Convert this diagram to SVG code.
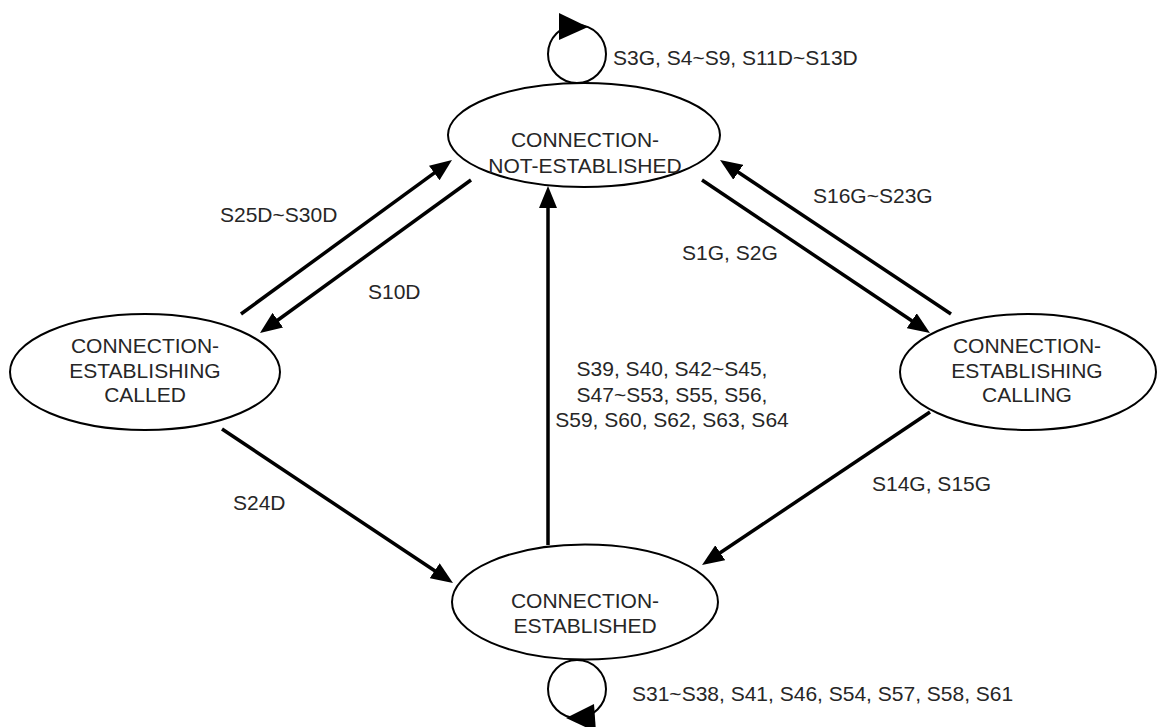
<svg xmlns="http://www.w3.org/2000/svg" width="1157" height="727" viewBox="0 0 1157 727">
  <style>
    .state { fill: #ffffff; stroke: #000000; stroke-width: 2; }
    .name { font-family: "Liberation Sans", Arial, sans-serif; font-size: 21px; fill: #262626; text-anchor: middle; }
    .label { font-family: "Liberation Sans", Arial, sans-serif; font-size: 21px; fill: #262626; }
    .edge { fill: none; stroke: #000000; stroke-width: 3.5; }
    .loop { fill: none; stroke: #000000; stroke-width: 2; }
    .head { fill: #000000; stroke: none; }
  </style>
  <defs>
    <marker id="arrow" markerUnits="userSpaceOnUse" markerWidth="22" markerHeight="18" refX="10" refY="9" orient="auto">
      <path d="M0,0 L22,9 L0,18 z" fill="#000000"/>
    </marker>
  </defs>

  <rect width="1157" height="727" fill="#ffffff"/>

  <!-- transitions -->
  <g id="connectors">
    <!-- self loop on CONNECTION-NOT-ESTABLISHED -->
    <circle class="loop" cx="577" cy="54" r="29"/>
    <polygon class="head" points="559,13 588,27 559,40"/>
    <!-- self loop on CONNECTION-ESTABLISHED -->
    <circle class="loop" cx="577" cy="689" r="29"/>
    <polygon class="head" points="566,718 594,704 596,732"/>

    <line class="edge" x1="241" y1="314" x2="442.3" y2="167.1" marker-end="url(#arrow)"/>
    <line class="edge" x1="471" y1="180" x2="269.7" y2="326" marker-end="url(#arrow)"/>
    <line class="edge" x1="548" y1="545" x2="548" y2="198" marker-end="url(#arrow)"/>
    <line class="edge" x1="702" y1="180" x2="920" y2="326.3" marker-end="url(#arrow)"/>
    <line class="edge" x1="951" y1="314" x2="730" y2="166.7" marker-end="url(#arrow)"/>
    <line class="edge" x1="222" y1="429" x2="443" y2="576.3" marker-end="url(#arrow)"/>
    <line class="edge" x1="930" y1="412" x2="712" y2="558.3" marker-end="url(#arrow)"/>
  </g>

  <!-- transition labels -->
  <g id="labels">
    <text class="label" x="613" y="65">S3G, S4~S9, S11D~S13D</text>
    <text class="label" x="220" y="222">S25D~S30D</text>
    <text class="label" x="368" y="299">S10D</text>
    <text class="label" x="682" y="260">S1G, S2G</text>
    <text class="label" x="813" y="203">S16G~S23G</text>
    <text class="label" x="672" y="376" text-anchor="middle">S39, S40, S42~S45,</text>
    <text class="label" x="672" y="402" text-anchor="middle">S47~S53, S55, S56,</text>
    <text class="label" x="672" y="427" text-anchor="middle">S59, S60, S62, S63, S64</text>
    <text class="label" x="233" y="510">S24D</text>
    <text class="label" x="872" y="491">S14G, S15G</text>
    <text class="label" x="632" y="701">S31~S38, S41, S46, S54, S57, S58, S61</text>
  </g>

  <g id="not-established">
    <ellipse class="state" cx="584" cy="135" rx="136" ry="52"/>
    <text class="name" x="585" y="147">CONNECTION-</text>
    <text class="name" x="585" y="173">NOT-ESTABLISHED</text>
  </g>

  <g id="establishing-called">
    <ellipse class="state" cx="145" cy="372" rx="135" ry="58"/>
    <text class="name" x="145" y="353">CONNECTION-</text>
    <text class="name" x="145" y="378">ESTABLISHING</text>
    <text class="name" x="145" y="402">CALLED</text>
  </g>

  <g id="establishing-calling">
    <ellipse class="state" cx="1028" cy="372" rx="128" ry="58"/>
    <text class="name" x="1027" y="353">CONNECTION-</text>
    <text class="name" x="1027" y="378">ESTABLISHING</text>
    <text class="name" x="1027" y="402">CALLING</text>
  </g>

  <g id="established">
    <ellipse class="state" cx="585" cy="602" rx="133" ry="57.5"/>
    <text class="name" x="585" y="608">CONNECTION-</text>
    <text class="name" x="585" y="633">ESTABLISHED</text>
  </g>
</svg>
